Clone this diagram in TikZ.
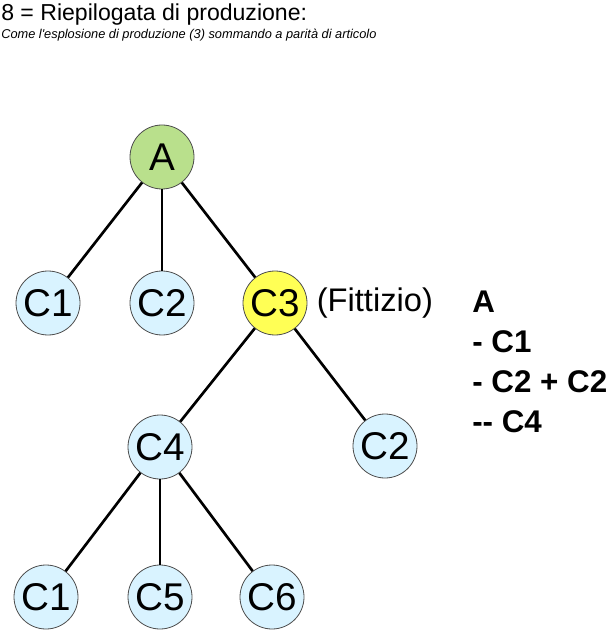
\documentclass[tikz,border=0pt]{standalone}
\usepackage{fontspec}
\setmainfont{Liberation Sans}
\usetikzlibrary{calc}

\definecolor{verdeA}{RGB}{185,224,140}
\definecolor{azzurro}{RGB}{217,243,255}
\definecolor{giallo}{RGB}{255,255,85}

\begin{document}
\begin{tikzpicture}[x=0.75pt,y=-0.75pt,
	nodo/.style={draw=black!70,line width=0.6pt,shape=circle,minimum size=48pt,inner sep=0pt,font=\fontsize{29}{34}\selectfont},
	ramo/.style={line width=2pt}]
	\useasboundingbox (0,0) rectangle (610,630);
	\node [anchor=base west,inner sep=0] (titolo) at (1,21) {\fontsize{17.3}{20}\selectfont 8 = Riepilogata di produzione:};
	\node [anchor=base west,inner sep=0] (sottotitolo) at (1,39) {\fontsize{9.6}{11}\selectfont\itshape Come l\textquotesingle esplosione di produzione (3) sommando a parità di articolo};

	\draw (162,157) node (A) [nodo,fill=verdeA] {A};

	\draw (48,303) node (C1a) [nodo,fill=azzurro] {C1};
	\draw (162,303) node (C2a) [nodo,fill=azzurro] {C2};
	\draw (275,303) node (C3) [nodo,fill=giallo] {C3};
	\node [right,xshift=3.5pt,font=\fontsize{24.5}{28}\selectfont] (fittizio) at (C3.east) {(Fittizio)};

	\draw (160,447) node (C4) [nodo,fill=azzurro] {C4};
	\draw (385,446) node (C2b) [nodo,fill=azzurro] {C2};

	\draw (46,597) node (C1b) [nodo,fill=azzurro] {C1};
	\draw (160,597) node (C5) [nodo,fill=azzurro] {C5};
	\draw (272,597) node (C6) [nodo,fill=azzurro] {C6};

	\node [anchor=north west,inner sep=0,align=left,font=\bfseries\fontsize{23.5}{30}\selectfont] (elenco) at (472,291) {A\\- C1\\- C2 + C2\\-{}- C4};

	\path[ramo] (A) edge (C1a);
	\path[ramo] (A) edge (C2a);
	\path[ramo] (A) edge (C3);
	\path[ramo] (C3) edge (C4);
	\path[ramo] (C3) edge (C2b);
	\path[ramo] (C4) edge (C1b);
	\path[ramo] (C4) edge (C5);
	\path[ramo] (C4) edge (C6);
\end{tikzpicture}
\end{document}
